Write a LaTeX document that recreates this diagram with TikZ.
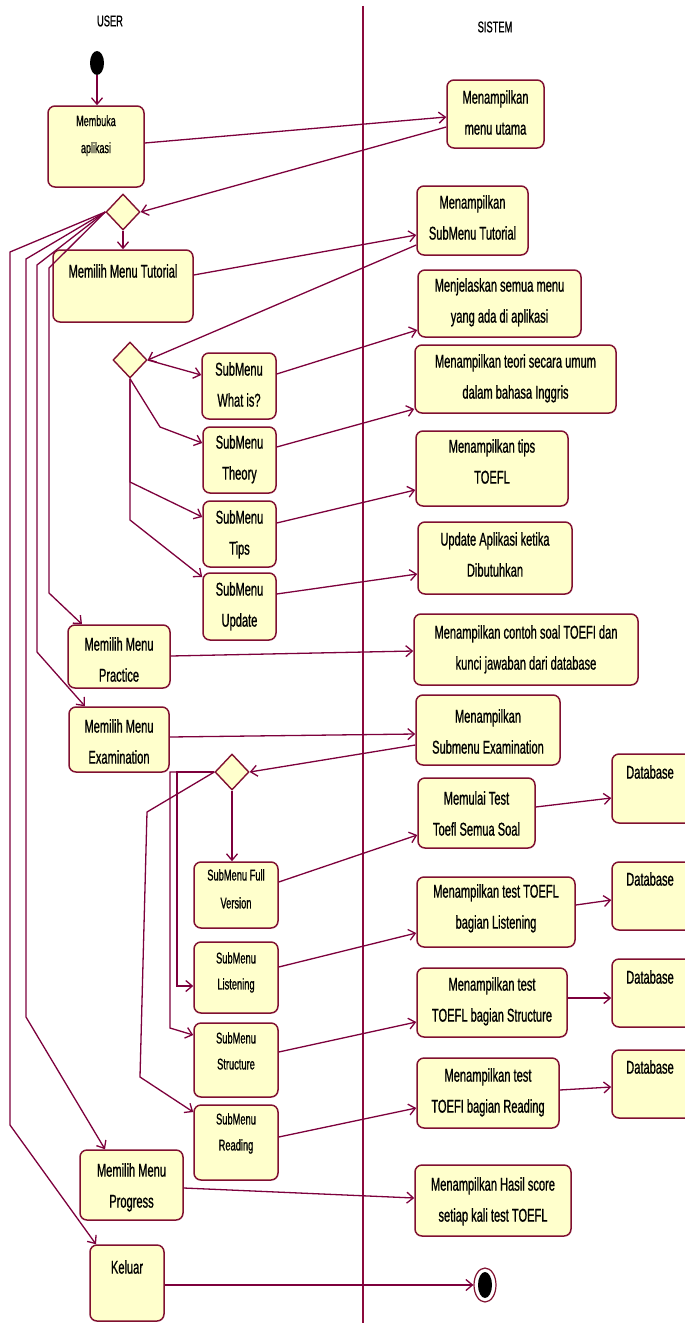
\documentclass[tikz,border=0pt]{standalone}
\usepackage{fontspec}
\newfontfamily\umlfont[FakeStretch=0.6,FakeBold=0.9]{Liberation Sans}
\usetikzlibrary{arrows.meta,shapes.geometric,fit}
\definecolor{boxfill}{RGB}{255,255,204}
\definecolor{boxc}{RGB}{128,16,48}
\definecolor{linec}{RGB}{125,0,60}
\definecolor{lanec}{RGB}{139,10,60}
\begin{document}
\begin{tikzpicture}[x=1pt,y=-1pt,
 box/.style={draw=boxc, fill=boxfill, rounded corners=7pt, line width=1.5pt, inner sep=0pt},
 dia/.style={diamond, draw=boxc, fill=boxfill, line width=1.4pt, inner sep=0pt, minimum width=34pt, minimum height=36pt},
 txt/.style={font=\umlfont\fontsize{18.5}{31}\selectfont, align=center, inner sep=0pt, anchor=north},
 stxt/.style={font=\umlfont\fontsize{15.5}{26}\selectfont, align=center, inner sep=0pt, anchor=north},
 lbl/.style={font=\umlfont\fontsize{15.5}{18}\selectfont, inner sep=0pt},
 conn/.style={draw=linec, line width=1.3pt},
 arr/.style={conn, -{Straight Barb[length=6.5pt,width=11pt]}},
 lane/.style={draw=lanec, line width=2.8pt}]
\useasboundingbox (0,0) rectangle (685,1330);
\clip (0,0) rectangle (685,1330);
\fill[white] (0,0) rectangle (685,1330);

% swimlane
\draw[lane] (363,6) -- (363,1323);
\node[lbl] (user) at (110,21) {USER};
\node[lbl] (sistem) at (495,27) {SISTEM};

% start / end
\node[ellipse, fill=black, inner sep=0pt, minimum width=14pt, minimum height=24pt] (start) at (97,63) {};
\node[ellipse, draw=boxc, fill=white, line width=1.2pt, inner sep=0pt, minimum width=22pt, minimum height=34pt] (end) at (485,1285) {};
\node[ellipse, fill=black, inner sep=0pt, minimum width=14pt, minimum height=26pt] (endin) at (end.center) {};

% USER boxes
\node[box, fit={(48,106) (144,187)}] (mb) {};
\node[stxt, font=\umlfont\fontsize{15}{27}\selectfont] (mbt) at (mb.north |- 0,115) {Membuka\\aplikasi};
\node[box, fit={(53,250) (193,322)}] (mt) {};
\node[txt] (mtt) at (mt.north |- 0,264) {Memilih Menu Tutorial};
\node[box, fit={(202,353) (276,419)}] (wi) {};
\node[txt] (wit) at (wi.north |- 0,362) {SubMenu\\What is?};
\node[box, fit={(203,427) (276,493)}] (th) {};
\node[txt] (tht) at (th.north |- 0,435) {SubMenu\\Theory};
\node[box, fit={(203,501) (276,567)}] (tp) {};
\node[txt] (tpt) at (tp.north |- 0,510) {SubMenu\\Tips};
\node[box, fit={(203,573) (276,640)}] (up) {};
\node[txt] (upt) at (up.north |- 0,582) {SubMenu\\Update};
\node[box, fit={(68,625) (170,688)}] (prac) {};
\node[txt] (pract) at (prac.north |- 0,637) {Memilih Menu\\Practice};
\node[box, fit={(69,707) (169,772)}] (exam) {};
\node[txt] (examt) at (exam.north |- 0,719) {Memilih Menu\\Examination};
\node[box, fit={(194,862) (278,928)}] (fv) {};
\node[stxt, font=\umlfont\fontsize{15.5}{28}\selectfont] (fvt) at (fv.north |- 0,869) {SubMenu Full\\Version};
\node[box, fit={(194,942) (278,1013)}] (ls) {};
\node[stxt] (lst) at (ls.north |- 0,952) {SubMenu\\Listening};
\node[box, fit={(194,1023) (278,1097)}] (ss) {};
\node[stxt] (sst) at (ss.north |- 0,1032) {SubMenu\\Structure};
\node[box, fit={(194,1105) (278,1180)}] (rs) {};
\node[stxt] (rst) at (rs.north |- 0,1113) {SubMenu\\Reading};
\node[box, fit={(80,1150) (183,1220)}] (prog) {};
\node[txt] (progt) at (prog.north |- 0,1163) {Memilih Menu\\Progress};
\node[box, fit={(90,1245) (164,1321)}] (kel) {};
\node[txt] (kelt) at (kel.north |- 0,1260) {Keluar};

% decisions
\node[dia] (d1) at (123,212) {};
\node[dia] (d2) at (130,360) {};
\node[dia] (d3) at (232,772) {};

% SISTEM boxes
\node[box, fit={(447,80) (544,148)}] (mu) {};
\node[txt] (mut) at (mu.north |- 0,90) {Menampilkan\\menu utama};
\node[box, fit={(417,186) (528,255)}] (smt) {};
\node[txt] (smtt) at (smt.north |- 0,195) {Menampilkan\\SubMenu Tutorial};
\node[box, fit={(418,270) (581,337)}] (mj) {};
\node[txt] (mjt) at (mj.north |- 0,278) {Menjelaskan semua menu\\yang ada di aplikasi};
\node[box, fit={(415,345) (616,413)}] (mteori) {};
\node[txt] (mteorit) at (mteori.north |- 0,354) {Menampilkan teori secara umum\\dalam bahasa Inggris};
\node[box, fit={(416,431) (568,506)}] (mtips) {};
\node[txt] (mtipst) at (mtips.north |- 0,439) {Menampilkan tips\\TOEFL};
\node[box, fit={(418,522) (572,594)}] (mupd) {};
\node[txt] (mupdt) at (mupd.north |- 0,532) {Update Aplikasi ketika\\Dibutuhkan};
\node[box, fit={(414,614) (638,685)}] (contoh) {};
\node[txt] (contoht) at (contoh.north |- 0,625) {Menampilkan contoh soal TOEFI dan\\kunci jawaban dari database};
\node[box, fit={(416,695) (560,765)}] (smx) {};
\node[txt] (smxt) at (smx.north |- 0,709) {Menampilkan\\Submenu Examination};
\node[box, fit={(418,778) (535,848)}] (mem) {};
\node[txt] (memt) at (mem.north |- 0,791) {Memulai Test\\Toefl Semua Soal};
\node[box, fit={(417,877) (575,947)}] (lbox) {};
\node[txt] (lboxt) at (lbox.north |- 0,884) {Menampilkan test TOEFL\\bagian Listening};
\node[box, fit={(417,968) (567,1037)}] (sbox) {};
\node[txt] (sboxt) at (sbox.north |- 0,977) {Menampilkan test\\TOEFL bagian Structure};
\node[box, fit={(417,1058) (559,1128)}] (rbox) {};
\node[txt] (rboxt) at (rbox.north |- 0,1068) {Menampilkan test\\TOEFI bagian Reading};
\node[box, fit={(415,1165) (571,1236)}] (hasil) {};
\node[txt] (hasilt) at (hasil.north |- 0,1177) {Menampilkan Hasil score\\setiap kali test TOEFL};
\node[box, fit={(612,754) (720,823)}] (db1) {};
\node[txt] (db1t) at (650,765) {Database};
\node[box, fit={(612,862) (720,930)}] (db2) {};
\node[txt] (db2t) at (650,872) {Database};
\node[box, fit={(612,959) (720,1027)}] (db3) {};
\node[txt] (db3t) at (650,970) {Database};
\node[box, fit={(612,1050) (720,1118)}] (db4) {};
\node[txt] (db4t) at (650,1060) {Database};

% connectors
\draw[arr] (start.south) -- (start.south |- mb.north);
\draw[arr] (mb.east |- 0,143) -- (mu.west |- 0,117);
\draw[arr] (mu.west |- 0,127) -- (d1.east);
\draw[arr] (d1.south) -- (d1.south |- mt.north);
\draw[arr] (mt.east |- 0,275) -- (smt.west |- 0,235);
\draw[arr] (smt.west |- 0,245) -- (d2.east);
\draw[arr] (d2.east) -- (wi.west |- 0,375);
\draw[arr] (d2.south) -- (160,427) -- (th.west |- 0,443);
\draw[arr] (d2.south) -- (130,482) -- (tp.west |- 0,517);
\draw[arr] (d2.south) -- (130,520) -- (up.west |- 0,577);
\draw[arr] (wi.east |- 0,374) -- (mj.west |- 0,330);
\draw[arr] (th.east |- 0,447) -- (mteori.west |- 0,409);
\draw[arr] (tp.east |- 0,523) -- (mtips.west |- 0,490);
\draw[arr] (up.east |- 0,594) -- (mupd.west |- 0,574);

\draw[arr] (d1.west) -- (10,252) -- (10,1125) -- (kel.north -| 96,0);
\draw[arr] (d1.west) -- (26,259) -- (26,1017) -- (prog.north -| 105,0);
\draw[arr] (d1.west) -- (37,265) -- (37,652) -- (exam.north -| 85,0);
\draw[arr] (d1.west) -- (49,268) -- (49,593) -- (prac.north -| 82,0);

\draw[arr] (prac.east |- 0,656) -- (contoh.west |- 0,651);
\draw[arr] (exam.east |- 0,737) -- (smx.west |- 0,734);
\draw[arr] (smx.west |- 0,745) -- (d3.east);
\draw[arr] (d3.south) -- (d3.south |- fv.north);
\draw[arr] (d3.west) -- (170,772) -- (170,1028) -- (ss.west |- 0,1035);
\draw[arr] (d3.west) -- (177,772) -- (177,986) -- (ls.west |- 0,986);
\draw[arr] (d3.west) -- (147,812) -- (140,1077) -- (rs.west |- 0,1112);

\draw[arr] (fv.east |- 0,882) -- (mem.west |- 0,835);
\draw[arr] (ls.east |- 0,967) -- (lbox.west |- 0,933);
\draw[arr] (ss.east |- 0,1052) -- (sbox.west |- 0,1022);
\draw[arr] (rs.east |- 0,1137) -- (rbox.west |- 0,1108);
\draw[arr] (mem.east |- 0,807) -- (db1.west |- 0,798);
\draw[arr] (lbox.east |- 0,905) -- (db2.west |- 0,900);
\draw[arr] (sbox.east |- 0,998) -- (db3.west |- 0,998);
\draw[arr] (rbox.east |- 0,1090) -- (db4.west |- 0,1087);
\draw[arr] (prog.east |- 0,1188) -- (hasil.west |- 0,1198);
\draw[arr] (kel.east |- 0,1285) -- (end.west);
\end{tikzpicture}
\end{document}
